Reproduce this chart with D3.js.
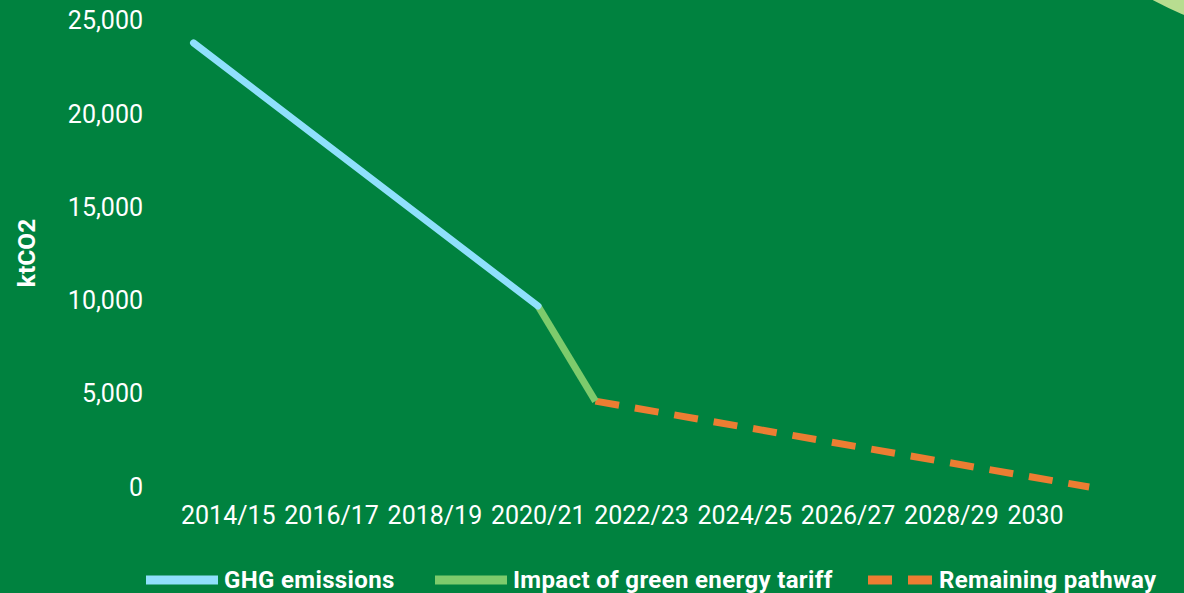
<!DOCTYPE html>
<html><head><meta charset="utf-8">
<script src="https://cdn.jsdelivr.net/npm/d3@7"></script>
<style>
html,body{margin:0;padding:0;background:#00823f;}
svg{display:block;font-family:Roboto, "Noto Sans", sans-serif;}
</style></head>
<body>
<svg id="chart" width="1184" height="593"></svg>
<script>
// ---- data ----
const xLabels = ["2014/15","2016/17","2018/19","2020/21","2022/23","2024/25","2026/27","2028/29","2030"];
const yTicks = [0, 5000, 10000, 15000, 20000, 25000];
// x = start year of the financial year (last point: end of the pathway)
const ghgYears = [2014, 2020];
const ghgValues = [23800, 9700];
const tariffYears = [2020, 2021];
const tariffValues = [9700, 4600];
const pathwayYears = [2021, 2029.6];
const pathwayValues = [4600, 0];
const seriesNames = ["GHG emissions", "Impact of green energy tariff", "Remaining pathway"];
const colors = {bg:"#00823f", ghg:"#8fe0fc", tariff:"#7dcb6c", path:"#ec7d32", corner:"#b8dd90"};

const svg = d3.select("#chart");
svg.append("rect").attr("width",1184).attr("height",593).attr("fill",colors.bg);
// decorative corner circle
svg.append("circle").attr("cx",1297).attr("cy",-263).attr("r",300).attr("fill",colors.corner);

const x = d3.scaleLinear().domain([2014, 2020]).range([193.5, 538]);
const y = d3.scaleLinear().domain([0, 25000]).range([487, 20.5]);

// y axis labels
svg.append("g").selectAll("text").data(yTicks).join("text")
  .attr("x",143).attr("y",d=>y(d)).attr("dy","0.35em")
  .attr("text-anchor","end").attr("fill","#fff").attr("font-size",25)
  .text(d=>d3.format(",")(d));

// x axis labels
const xl = d3.scalePoint().domain(xLabels).range([181, 181+8*103.3]);
svg.append("g").selectAll("text").data(xLabels).join("text")
  .attr("x",d=>xl(d)).attr("y",524)
  .attr("text-anchor","start").attr("fill","#fff").attr("font-size",25)
  .text(d=>d);

// y title
svg.append("text").attr("transform","translate(35,253) rotate(-90)")
  .attr("text-anchor","middle").attr("fill","#fff").attr("font-size",24.5).attr("font-weight","bold")
  .text("ktCO2");

const line = d3.line().x(d=>x(d[0])).y(d=>y(d[1]));
const zip = (a,b)=>a.map((v,i)=>[v,b[i]]);

svg.append("path").datum(zip(pathwayYears,pathwayValues)).attr("d",line)
  .attr("fill","none").attr("stroke",colors.path).attr("stroke-width",7)
  .attr("stroke-dasharray","24,16");
svg.append("path").datum(zip(tariffYears,tariffValues)).attr("d",line)
  .attr("fill","none").attr("stroke",colors.tariff).attr("stroke-width",7);
svg.append("path").datum(zip(ghgYears,ghgValues)).attr("d",line)
  .attr("fill","none").attr("stroke",colors.ghg).attr("stroke-width",7)
  .attr("stroke-linecap","round");

// legend
const legendX = [146, 435, 868];
const legendColors = [colors.ghg, colors.tariff, colors.path];
const lg = svg.append("g");
seriesNames.forEach((name,i)=>{
  lg.append("line").attr("x1",legendX[i]).attr("x2",legendX[i]+72)
    .attr("y1",580).attr("y2",580).attr("stroke",legendColors[i]).attr("stroke-width",9)
    .attr("stroke-dasharray", i===2 ? "24,16" : null);
  lg.append("text").attr("x",legendX[i]+(i===2?71:78)).attr("y",588)
    .attr("fill","#fff").attr("font-size",24).attr("font-weight","bold")
    .attr("letter-spacing","0.35px").text(name);
});
</script>
</body></html>
